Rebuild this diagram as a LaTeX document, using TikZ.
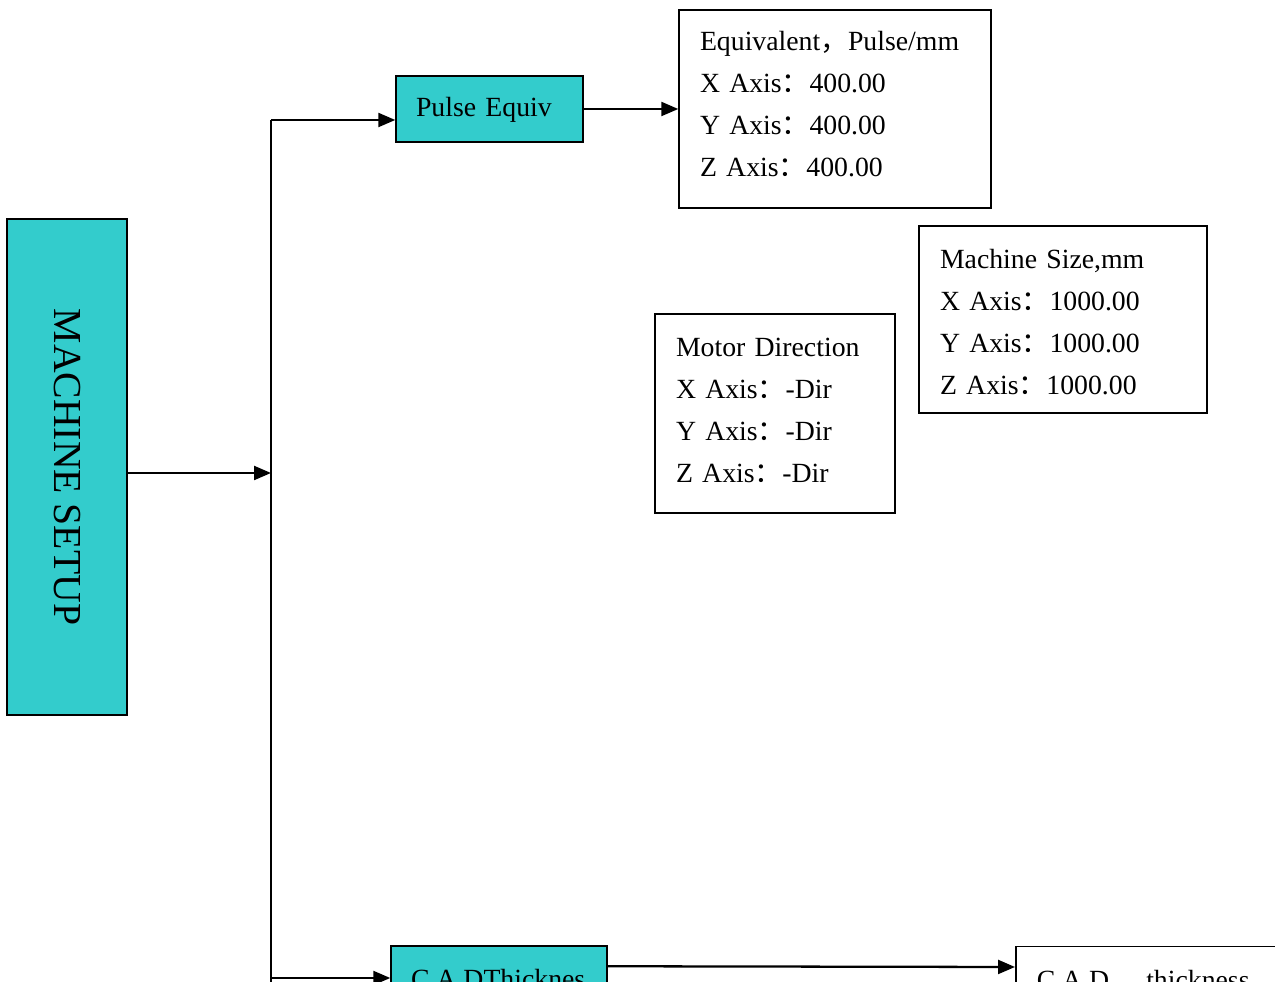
\documentclass[tikz,border=0pt]{standalone}
\usepackage{fontspec}
\setmainfont{Liberation Serif}
\newfontfamily\cjk{Noto Sans CJK SC}
\usetikzlibrary{arrows.meta,positioning}

\newcommand{\fw}[1]{{\cjk #1}}

\tikzset{
  setupbox/.style={draw,line width=0.85pt,fill=setupCyan,inner sep=0pt},
  valbox/.style={draw,line width=0.85pt,inner xsep=0.42cm,inner ysep=0pt,align=left,text height=10pt},
  arr/.style={line width=1.3pt,-{Triangle[length=0.34cm,width=0.28cm]}},
  trunk/.style={line width=1.3pt}
}

\begin{document}
\begin{tikzpicture}[x=0.02cm,y=-0.02cm,font=\fontsize{15.8}{23.9}\selectfont]
\definecolor{setupCyan}{HTML}{33CCCC}
\clip (0,0) rectangle (1275,982);
\fill[white] (0,0) rectangle (1275,982);

% left block
\node[setupbox,minimum width=2.4cm,minimum height=9.92cm] (machine) at (67,467) {};
\node[rotate=-90,font=\fontsize{22.6}{27}\selectfont] at (machine.center) {MACHINE SETUP};

% first level
\node[setupbox,minimum width=3.74cm,minimum height=1.32cm,text width=2.94cm,align=left,inner xsep=0.4cm,text depth=2pt] (pulse) at (489.5,109) {Pulse Equiv};
\node[setupbox,minimum width=4.32cm,minimum height=1.32cm,text width=3.52cm,align=left,inner xsep=0.4cm] (cad) at (499,979) {C.A.DThicknes};

% value boxes
\node[valbox,text width=5.4cm,minimum height=3.96cm,text depth=76.1pt] (equiv) at (835,109) {Equivalent\fw{，}Pulse/mm\\X Axis\fw{：}400.00\\Y Axis\fw{：}400.00\\Z Axis\fw{：}400.00};
\node[valbox,text width=4.92cm,minimum height=3.74cm,text depth=67.6pt] (size) at (1063,319.5) {Machine Size,mm\\X Axis\fw{：}1000.00\\Y Axis\fw{：}1000.00\\Z Axis\fw{：}1000.00};
\node[valbox,text width=3.96cm,minimum height=3.98cm,text depth=74.4pt] (motor) at (775,413.5) {Motor Direction\\X Axis\fw{：}-Dir\\Y Axis\fw{：}-Dir\\Z Axis\fw{：}-Dir};
\node[draw,line width=0.85pt,inner xsep=0.42cm,inner ysep=0pt,text width=5.2cm,align=left,minimum height=1.32cm,anchor=north west] (cadval) at (1015,946) {C.A.D\fw{　}\ thickness};

% connectors
\coordinate (hub) at (271,473);
\coordinate (top) at (271,120);
\coordinate (bot) at (271,978);
\draw[trunk] (top) -- (bot) -- ++(0,40);
\draw[arr] (machine.east |- hub) -- (hub);
\draw[arr] (top) -- (top -| pulse.west);
\draw[arr] (bot) -- (bot -| cad.west);
\draw[arr] (pulse.east) -- (equiv.west);
\draw[arr] ([yshift=-0.42cm]cad.north east) -- ([yshift=-0.42cm]cadval.north west);
\end{tikzpicture}
\end{document}
